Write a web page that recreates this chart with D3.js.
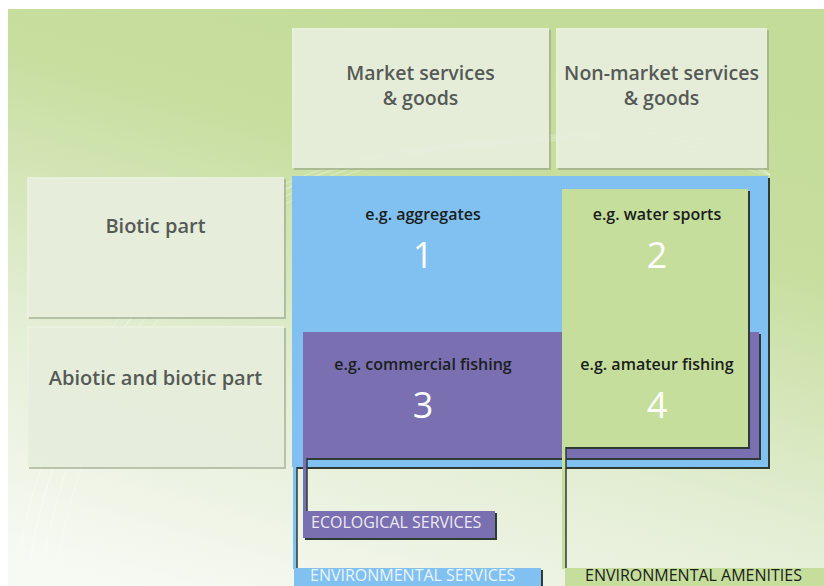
<!DOCTYPE html>
<html>
<head>
<meta charset="utf-8">
<script src="https://cdn.jsdelivr.net/npm/d3@7"></script>
<style>
  html, body { margin: 0; padding: 0; background: #fff; }
  svg { display: block; font-family: "Open Sans", "DejaVu Sans", sans-serif; }
</style>
</head>
<body>
<svg id="chart" width="824" height="586"></svg>
<script>
// column / row headers
const columns = ["Market services\n& goods", "Non-market services\n& goods"];
const rows = ["Biotic part", "Abiotic and biotic part"];

// the four numbered cells
const cells = [
  { n: "1", example: "e.g. aggregates", col: 0, row: 0 },
  { n: "2", example: "e.g. water sports", col: 1, row: 0 },
  { n: "3", example: "e.g. commercial fishing", col: 0, row: 1 },
  { n: "4", example: "e.g. amateur fishing", col: 1, row: 1 }
];

// service groups, drawn back to front
const groups = ["ENVIRONMENTAL SERVICES", "ECOLOGICAL SERVICES", "ENVIRONMENTAL AMENITIES"];

const svg = d3.select("#chart");
const W = 824, H = 586;

// grid edges of the table
const colX = [292, 556, 768];
const rowY = [177, 326, 467];
const headTop = 28, headBottom = 168, sideLeft = 27, sideRight = 284;

const col = d3.scaleOrdinal().domain([0, 1]).range([colX[0], colX[1]]);
const row = d3.scaleOrdinal().domain([0, 1]).range([rowY[0], rowY[1]]);
const colMid = i => i === 0 ? 423 : 657;

const defs = svg.append("defs");
const bg = defs.append("linearGradient").attr("id", "bg")
  .attr("x1", "0.15").attr("y1", "1").attr("x2", "0.55").attr("y2", "0");
bg.append("stop").attr("offset", "0").attr("stop-color", "#f7f9f3");
bg.append("stop").attr("offset", "0.35").attr("stop-color", "#e4eed5");
bg.append("stop").attr("offset", "0.75").attr("stop-color", "#c7de9f");
bg.append("stop").attr("offset", "1").attr("stop-color", "#c4dc9a");

svg.append("rect").attr("width", W).attr("height", H).attr("fill", "#fff");
svg.append("rect").attr("x", 8).attr("y", 9).attr("width", W - 8).attr("height", H - 9)
  .attr("fill", "url(#bg)");

// faint swirl decoration
const swirl = svg.append("g").attr("fill", "none").attr("stroke", "#fff").attr("stroke-opacity", 0.35);
[[0, 1.6], [14, 1], [28, 0.8], [-12, 1]].forEach(([o, w]) => {
  swirl.append("path")
    .attr("d", `M${30 + o},${560} C${60 + o},${380} ${180 + o},${180} ${420 + o},${150} S${720},${140 + o} ${770},${175}`)
    .attr("stroke-width", w);
});

// light header boxes
function lightBox(x, y, w, h) {
  svg.append("rect").attr("x", x + 2).attr("y", y + 2).attr("width", w).attr("height", h)
    .attr("fill", "#8f9a82").attr("opacity", 0.55);
  svg.append("rect").attr("x", x).attr("y", y).attr("width", w).attr("height", h)
    .attr("fill", "#eaf1e0").attr("fill-opacity", 0.92);
}

columns.forEach((c, i) => {
  const x = col(i), w = colX[i + 1] - colX[i] - (i === 0 ? 7 : 1);
  lightBox(x, headTop, w, headBottom - headTop);
  const t = svg.append("text").attr("text-anchor", "middle")
    .attr("font-size", 19.5).attr("font-weight", 600).attr("fill", "#555a56");
  c.split("\n").forEach((s, k) => {
    t.append("tspan").attr("x", x + w / 2).attr("y", 80 + k * 25).text(s);
  });
});

rows.forEach((r, i) => {
  const y = row(i), h = (i === 0 ? rowY[1] - 9 : rowY[2]) - y;
  lightBox(sideLeft, y, sideRight - sideLeft, h);
  svg.append("text").attr("x", (sideLeft + sideRight) / 2).attr("y", i === 0 ? 233 : 385)
    .attr("text-anchor", "middle").attr("font-size", 20).attr("font-weight", 600)
    .attr("fill", "#555a56").text(r);
});

// coloured group boxes with dark drop shadows and connector legs
const dark = "#2e3a33";
function groupBox(x, y, w, h, fill) {
  svg.append("rect").attr("x", x + 2).attr("y", y + 2).attr("width", w).attr("height", h).attr("fill", dark);
  svg.append("rect").attr("x", x).attr("y", y).attr("width", w).attr("height", h).attr("fill", fill);
}
function leg(x, y1, y2, fill) {
  svg.append("rect").attr("x", x).attr("y", y1).attr("width", 4).attr("height", y2 - y1).attr("fill", fill);
  svg.append("line").attr("x1", x + 4).attr("x2", x + 4).attr("y1", y1).attr("y2", y2)
    .attr("stroke", dark).attr("stroke-width", 1.5);
}

const blue = "#80c1f1", purple = "#7a6fb1", green = "#c6de9c";

// environmental services (blue)
groupBox(colX[0], rowY[0] - 1, colX[2] - colX[0], rowY[2] - rowY[0] + 1, blue);
leg(293, rowY[2], 569, blue);
// ecological services (purple)
groupBox(303, 332, 456, 126, purple);
leg(303, 458, 512, purple);
// environmental amenities (green)
groupBox(562, 189, 186, 258, green);
leg(562, 447, 569, green);

// cell labels
cells.forEach(d => {
  const yEx = d.row === 0 ? 220 : 370;
  svg.append("text").attr("x", colMid(d.col)).attr("y", yEx).attr("text-anchor", "middle")
    .attr("font-size", 16).attr("font-weight", 600).attr("fill", "#1a201c").text(d.example);
  svg.append("text").attr("x", colMid(d.col)).attr("y", yEx + 48).attr("text-anchor", "middle")
    .attr("font-size", 36).attr("font-weight", 500).attr("fill", "#fff").text(d.n);
});

// group tags at the bottom
const tags = [
  { x: 294, y: 568, w: 247, h: 20, fill: blue, color: "#eaf4fc" },
  { x: 303, y: 511, w: 192, h: 27, fill: purple, color: "#eceaf5" },
  { x: 565, y: 568, w: 262, h: 20, fill: green, color: "#1a201c" }
];
groups.forEach((g, i) => {
  const t = tags[i];
  svg.append("rect").attr("x", t.x + 2).attr("y", t.y + 2).attr("width", t.w).attr("height", t.h).attr("fill", dark);
  svg.append("rect").attr("x", t.x).attr("y", t.y).attr("width", t.w).attr("height", t.h).attr("fill", t.fill);
  svg.append("text").attr("x", t.x + (i === 2 ? 20 : 8) + (i === 0 ? 8 : 0)).attr("y", i === 1 ? t.y + 17 : 581)
    .attr("font-size", 16).attr("fill", t.color).text(g);
});
</script>
</body>
</html>
